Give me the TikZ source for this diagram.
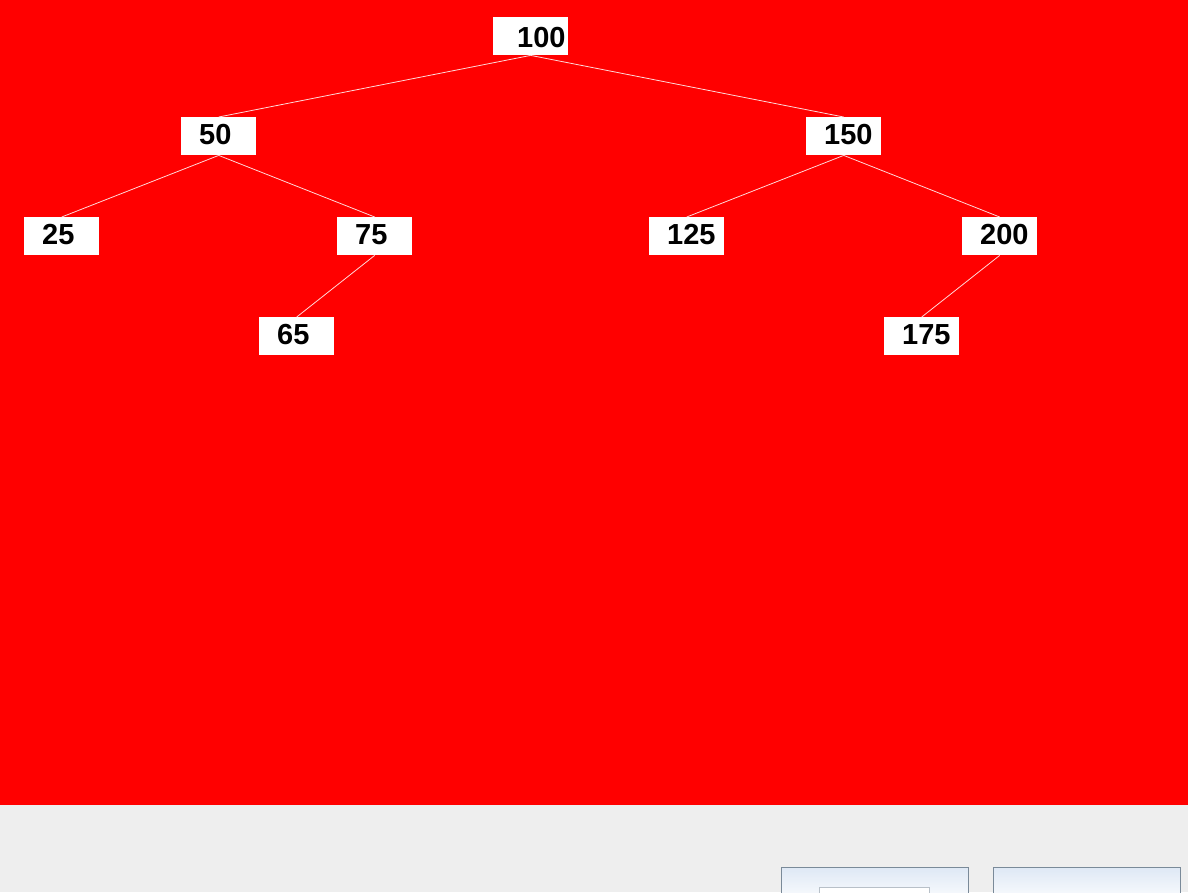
\documentclass[tikz,border=0pt]{standalone}
\usepackage{fontspec}
\setmainfont{Liberation Sans}
\usetikzlibrary{calc}
\definecolor{bgred}{RGB}{255,0,0}
\definecolor{panel}{RGB}{238,238,238}
\definecolor{btnborder}{RGB}{122,138,153}
\definecolor{btntop}{RGB}{222,232,245}
\definecolor{innerborder}{RGB}{184,192,200}
\tikzset{
  valbox/.style={fill=white, minimum width=75pt, minimum height=38pt, inner sep=0pt, anchor=north west},
  vallab/.style={anchor=base west, inner sep=0pt, font=\fontsize{29}{31}\selectfont\bfseries, text=black},
  edge/.style={draw=white!85!bgred, line width=0.8pt},
  btn/.style={draw=btnborder, line width=0.8pt, top color=btntop, bottom color=white}
}
\begin{document}
\begin{tikzpicture}[x=1pt, y=-1pt]
\useasboundingbox (0,0) rectangle (1188,892);
\fill[bgred] (0,0) rectangle (1188,805);
\fill[panel] (0,805) rectangle (1188,892);
% boxes
\node[valbox] (n100) at (493,17) {};
\node[valbox] (n50) at (181,117) {};
\node[valbox] (n150) at (806,117) {};
\node[valbox] (n25) at (24,217) {};
\node[valbox] (n75) at (337,217) {};
\node[valbox] (n125) at (649,217) {};
\node[valbox] (n200) at (962,217) {};
\node[valbox] (n65) at (259,317) {};
\node[valbox] (n175) at (884,317) {};
% labels
\node[vallab] (l100) at ($(n100.north west)+(24,30)$) {100};
\node[vallab] (l50) at ($(n50.north west)+(18,27)$) {50};
\node[vallab] (l150) at ($(n150.north west)+(18,27)$) {150};
\node[vallab] (l25) at ($(n25.north west)+(18,27)$) {25};
\node[vallab] (l75) at ($(n75.north west)+(18,27)$) {75};
\node[vallab] (l125) at ($(n125.north west)+(18,27)$) {125};
\node[vallab] (l200) at ($(n200.north west)+(18,27)$) {200};
\node[vallab] (l65) at ($(n65.north west)+(18,27)$) {65};
\node[vallab] (l175) at ($(n175.north west)+(18,27)$) {175};
% edges
\draw[edge] (n100.south) -- (n50.north);
\draw[edge] (n100.south) -- (n150.north);
\draw[edge] (n50.south) -- (n25.north);
\draw[edge] (n50.south) -- (n75.north);
\draw[edge] (n75.south) -- (n65.north);
\draw[edge] (n150.south) -- (n125.north);
\draw[edge] (n150.south) -- (n200.north);
\draw[edge] (n200.south) -- (n175.north);
% buttons
\begin{scope}
\clip (0,0) rectangle (1188,892);
\path[btn] (781,867) rectangle (968,905);
\path[btn] (993,867) rectangle (1180,905);
\draw[innerborder, line width=0.8pt, fill=white] (819,887) rectangle (929,905);
\end{scope}
\end{tikzpicture}
\end{document}
